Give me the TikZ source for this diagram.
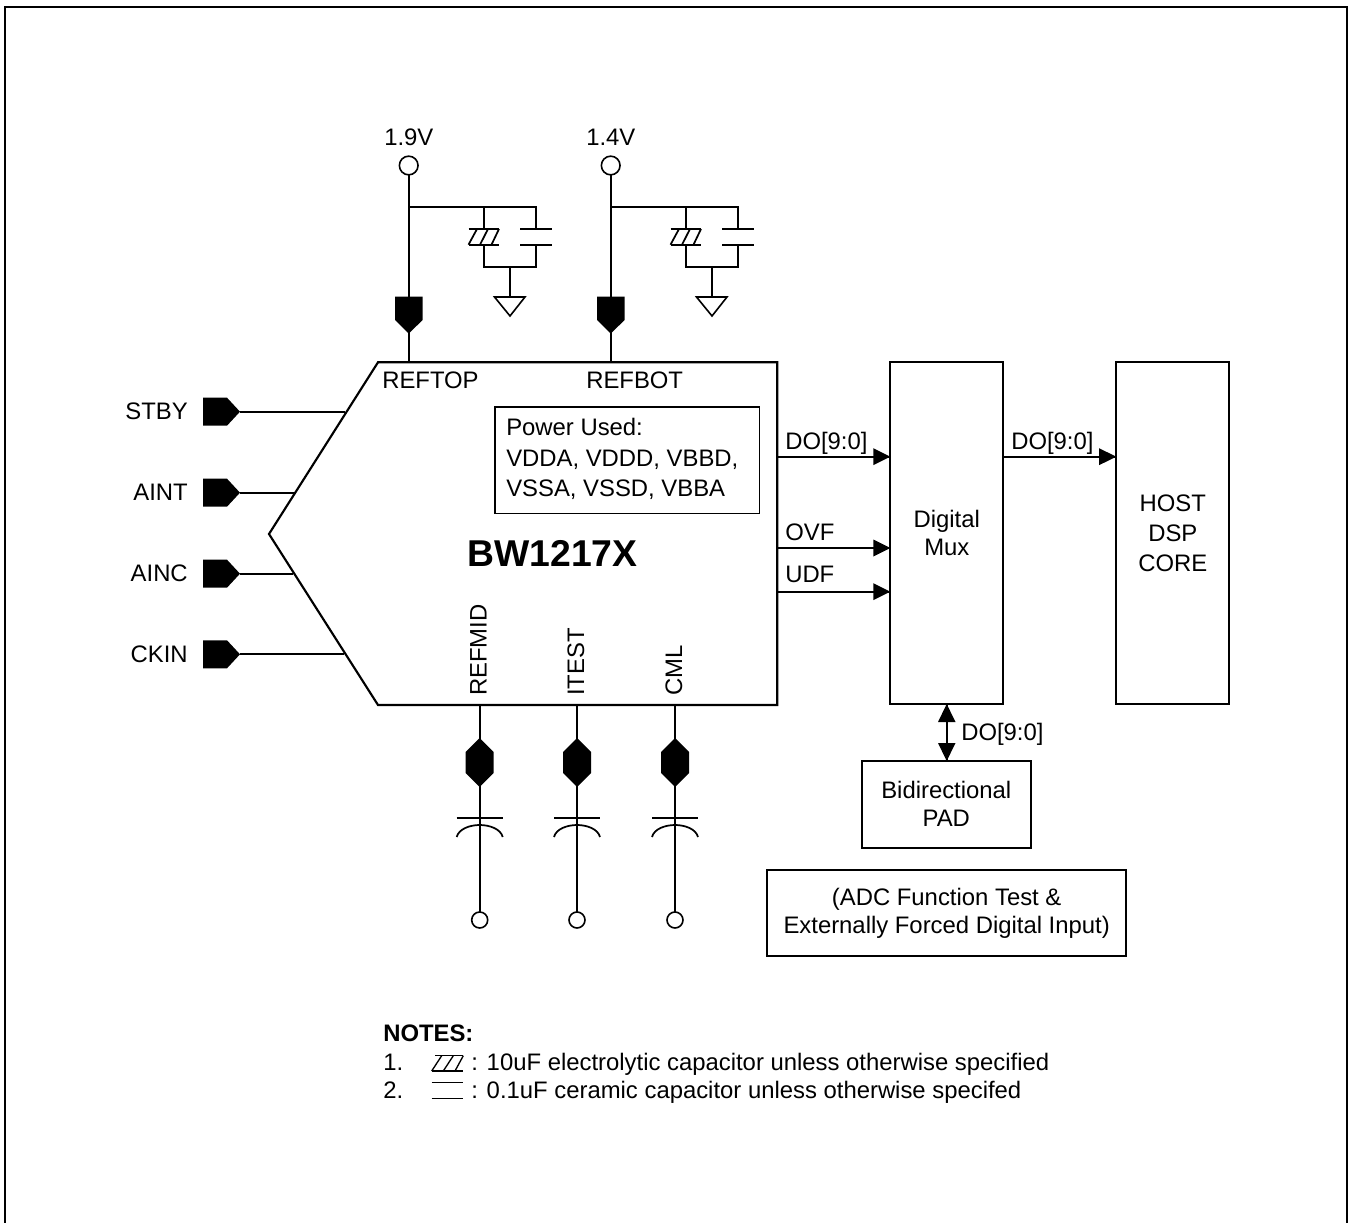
\documentclass[tikz,border=0pt]{standalone}
\usepackage{fontspec}
\setmainfont{Liberation Sans}
\begin{document}
\begin{tikzpicture}[x=0.75pt,y=-0.75pt,
  ln/.style={draw=black,line width=1.6pt},
  wire/.style={draw=black,line width=1.3pt},
  txt/.style={inner sep=0pt,anchor=base,font=\fontsize{17.9}{23}\selectfont},
  ltxt/.style={txt,anchor=base west},
  rtxt/.style={txt,anchor=base east},
  box/.style={draw=black,line width=1.4pt,fill=white,inner sep=0pt,outer sep=0pt,align=center,anchor=north west},
  tight/.style={font=\fontsize{17.9}{21}\selectfont},
  loose/.style={font=\fontsize{17.9}{22.2}\selectfont},
  term/.style={circle,draw=black,line width=1.2pt,fill=white,inner sep=0pt,outer sep=0pt},
  bigterm/.style={term,minimum size=14pt},
  smallterm/.style={term,minimum size=12pt},
  gnd/.style={draw=black,line width=1.2pt,fill=white,line join=miter},
  solid pin/.style={fill=black,draw=none},
  head/.style={fill=black,draw=none}]
\useasboundingbox (0,0) rectangle (1353,1223);
\path[ln] (5,1223) -- (5,6.7) -- (1346.7,6.7) -- (1346.7,1223);
% named boxes
\node[box,tight,minimum width=84.75pt,minimum height=256.5pt] (mux) at (890.3,362.3) {Digital\\Mux};
\node[box,loose,minimum width=84.75pt,minimum height=256.5pt] (host) at (1116.3,362.3) {HOST\\DSP\\CORE};
\node[box,tight,minimum width=126.75pt,minimum height=65pt] (pad) at (861.8,761) {Bidirectional\\PAD};
\node[box,tight,minimum width=269.5pt,minimum height=64.5pt] (adc) at (767,870) {(ADC Function Test \&\\Externally Forced Digital Input)};
% main block
\draw[ln,line join=miter] (378,362.3) -- (777.3,362.3) -- (777.3,705) -- (378,705) -- (269,534) -- cycle;
\coordinate (main1) at (345,411.7);
\coordinate (main2) at (294,492.7);
\coordinate (main3) at (293,573.7);
\coordinate (main4) at (344,654.3);
\node[ltxt] at (382,388) {REFTOP};
\node[ltxt] at (586,388) {REFBOT};
\node[txt,font=\fontsize{28}{32}\bfseries\selectfont] at (552.5,566) {BW1217X};
\node[draw=black,line width=1.2pt,minimum width=198.5pt,minimum height=80pt,anchor=north west,inner sep=0pt,outer sep=0pt] (pw) at (495,407) {};
\node[ltxt,align=left,anchor=north west,font=\fontsize{17.9}{23}\selectfont] at (506,418) {Power Used:\\VDDA, VDDD, VBBD,\\VSSA, VSSD, VBBA};
% left pins
\foreach \n/\yy/\l in {1/411.7/STBY,2/492.7/AINT,3/573.7/AINC,4/654.3/CKIN}{
  \coordinate (p\n) at (240,\yy);
  \draw[wire] (p\n) -- (main\n);
  \fill[solid pin] (203,\yy-14) -- (227,\yy-14) -- (p\n) -- (227,\yy+14) -- (203,\yy+14) -- cycle;
  \node[rtxt] at (188,\yy+8) {\l};
}
% reference branches
\foreach \n/\dx/\l in {a/0/1.9V,b/202/1.4V}{
  \begin{scope}[shift={(\dx,0)}]
    \node[bigterm] (t\n) at (408.7,165.5) {};
    \coordinate (b\n) at (408.7,362);
    \coordinate (j\n) at (408.7,206.7);
    \coordinate (c\n) at (536,206.7);
    \coordinate (e\n) at (483.7,206.7);
    \coordinate (g\n) at (510,267);
    \draw[wire] (t\n) -- (b\n);
    \draw[wire] (j\n) -- (c\n) -- (536,229) (536,244.7) -- (536,267) -| (483.7,244.7);
    \draw[wire] (e\n) -- (483.7,229);
    \draw[wire] (520,229) -- (552,229) (520,244.7) -- (552,244.7);
    \draw[wire] (468.5,229) -- (499,229) (468.5,244.7) -- (499,244.7);
    \draw[wire] (468.5,244.7) -- (477,229) (480,244.7) -- (488,229) (491.5,244.7) -- (499,229);
    \draw[wire] (g\n) -- (510,297);
    \draw[gnd] (494.5,297) -- (525,297) -- (510,316) -- cycle;
    \fill[solid pin] (395,296.7) -- (422.7,296.7) -- (422.7,320) -- (408.7,333.5) -- (395,320) -- cycle;
    \node[txt] at (408.8,145.3) {\l};
  \end{scope}
}
% bottom branches
\foreach \n/\xx/\l in {x/479.7/REFMID,y/577/ITEST,z/675/CML}{
  \begin{scope}[shift={(\xx,0)}]
    \coordinate (s\n) at (0,705);
    \node[smallterm] (u\n) at (0,920) {};
    \draw[wire] (s\n) -- (u\n);
    \fill[solid pin] (0,738) -- (14,752) -- (14,773) -- (0,787) -- (-14,773) -- (-14,752) -- cycle;
    \draw[wire] (-23,817.7) -- (23,817.7);
    \draw[wire] (-23,837) .. controls (-21,829) and (-10,825) .. (0,825) .. controls (10,825) and (21,829) .. (23,837);
    \node[txt,rotate=90,anchor=base west] at (7,696) {\l};
  \end{scope}
}
% right arrows
\foreach \n/\yy/\l/\ly in {d/456.7/DO[9:0]/449,o/548/OVF/540,u/591.7/UDF/582.5}{
  \coordinate (out\n) at (777.3,\yy);
  \coordinate (in\n) at (890.3,\yy);
  \draw[wire] (out\n) -- (in\n);
  \fill[head] (890.3,\yy) -- (873.3,\yy-8.5) -- (873.3,\yy+8.5) -- cycle;
  \node[ltxt] at (785,\ly) {\l};
}
\coordinate (mo) at (1003.3,456.7);
\coordinate (hi) at (1116.3,456.7);
\draw[wire] (mo) -- (hi);
\fill[head] (1116.3,456.7) -- (1099,448.2) -- (1099,465.2) -- cycle;
\node[ltxt] at (1011,449) {DO[9:0]};
% bidirectional arrow
\draw[wire] (mux.south -| 946.7,0) -- (pad.north -| 946.7,0);
\fill[head] (946.7,704) -- (938,722) -- (955.5,722) -- cycle;
\fill[head] (946.7,761) -- (938,743) -- (955.5,743) -- cycle;
\node[ltxt] at (961,740) {DO[9:0]};
% notes
\node[ltxt,font=\fontsize{17.9}{23}\bfseries\selectfont] at (383,1041) {NOTES:};
\node[ltxt] at (383,1070) {1.};
\node[ltxt] at (383,1098) {2.};
\draw[wire,line width=1pt] (435,1055.7) -- (463.3,1055.7);
\draw[wire] (431.5,1071) -- (463,1071);
\draw[wire,line width=1pt] (431.7,1071) -- (441.7,1055.7) (443.3,1071) -- (453.3,1055.7) (455,1071) -- (463.3,1055.7);
\draw[wire,line width=1pt] (431.7,1082.7) -- (463,1082.7);
\draw[wire,line width=1.4pt] (431.7,1098.5) -- (463,1098.5);
\node[ltxt] at (471,1070) {: 10uF electrolytic capacitor unless otherwise specified};
\node[ltxt] at (471,1098) {: 0.1uF ceramic capacitor unless otherwise specifed};
\end{tikzpicture}
\end{document}
